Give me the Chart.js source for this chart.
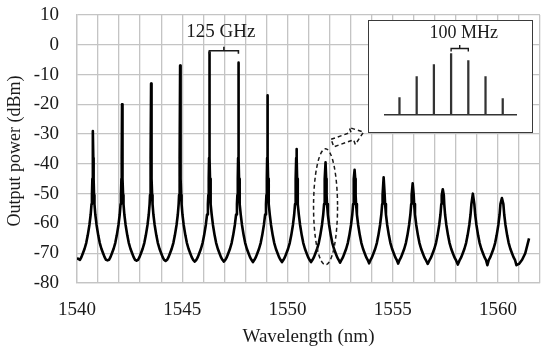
<!DOCTYPE html>
<html>
<head>
<meta charset="utf-8">
<script src="https://cdn.jsdelivr.net/npm/chart.js@4/dist/chart.umd.min.js"></script>
<style>
  body { margin: 0; background: #fff; }
  #wrap { position: relative; width: 550px; height: 351px; }
  #inset { position: absolute; left: 368px; top: 20px; width: 163px; height: 111px;
           border: 1.5px solid #3a3a3a; background: #fff; }
</style>
</head>
<body>
<div id="wrap">
  <canvas id="spectrum" width="550" height="351"></canvas>
  <div id="inset"><canvas id="insetChart" width="163" height="111"></canvas></div>
</div>
<script>
// --- data ---
const peakCenters = [1540.76, 1542.14, 1543.52, 1544.90, 1546.29, 1547.67, 1549.05, 1550.43,
                     1551.81, 1553.19, 1554.57, 1555.95, 1557.38, 1558.81, 1560.19]; // nm
const peakLevels = [-29, -20, -13, -7, -2.5, -6, -17, -35, -39.5, -42, -44.5, -46.5, -48.5, -50, -51.5]; // dBm
const valleyLevels = [-72.4, -72.5, -72.6, -72.8, -72.8, -73, -73, -73, -73.2, -73.4, -73.5, -73.6, -73.8, -74];
const skirtOffsets = [0.62, 0.55, 0.48, 0.40, 0.32, 0.25, 0.17, 0.11, 0.07, 0.05, 0.03, 0.015];
const skirtLevels = [-72.2, -71.3, -70, -68.5, -66.5, -64, -60.5, -57, -53.5, -50.5, -45, -38];
const startPoint = { x: 1540.0, y: -71.7 };
const tailPoints = [{ x: 1560.88, y: -74 }, { x: 1561.0, y: -73.6 }, { x: 1561.15, y: -72.2 },
                    { x: 1561.3, y: -70 }, { x: 1561.48, y: -65 }];

// inset: 100 MHz spaced lines
const insetPos = [1, 2, 3, 4, 5, 6, 7];
const insetLevels = [17, 38, 50, 61, 54, 38, 16];

const xTickLabels = [1540, 1545, 1550, 1555, 1560];
const yTitle = 'Output power (dBm)';
const serif = '"Liberation Serif", "Times New Roman", serif';
const ink = '#1a1a1a';
const gridGray = '#c4c4c4';

// --- build the trace from the read values ---
const trace = [startPoint];
peakCenters.forEach((c, i) => {
  for (let k = 0; k < skirtOffsets.length; k++) {
    if (skirtLevels[k] < peakLevels[i] - 1) trace.push({ x: c - skirtOffsets[k], y: skirtLevels[k] });
  }
  trace.push({ x: c, y: peakLevels[i] });
  for (let k = skirtOffsets.length - 1; k >= 0; k--) {
    if (skirtLevels[k] < peakLevels[i] - 1) trace.push({ x: c + skirtOffsets[k], y: skirtLevels[k] });
  }
  if (i < valleyLevels.length) trace.push({ x: (c + peakCenters[i + 1]) / 2, y: valleyLevels[i] });
});
trace.push(...tailPoints);

// --- annotations drawn on top of the main plot ---
const notes = {
  id: 'notes',
  afterDraw(chart) {
    const { ctx, chartArea, scales: { x, y } } = chart;
    ctx.save();
    ctx.strokeStyle = ink;
    ctx.fillStyle = ink;

    // y axis title, centred on the plot like the original
    ctx.save();
    ctx.translate(15, (chartArea.top + chartArea.bottom) / 2 + 2);
    ctx.rotate(-Math.PI / 2);
    ctx.font = '18px ' + serif;
    ctx.textAlign = 'center';
    ctx.textBaseline = 'middle';
    ctx.fillText(yTitle, 0, 0);
    ctx.restore();

    // 125 GHz bracket between peaks 5 and 6
    const bx1 = x.getPixelForValue(peakCenters[4]);
    const bx2 = x.getPixelForValue(peakCenters[5]);
    const by = y.getPixelForValue(-2);
    const bm = (bx1 + bx2) / 2;
    ctx.lineWidth = 1.6;
    ctx.beginPath();
    ctx.moveTo(bx1, by + 3); ctx.lineTo(bx1, by); ctx.lineTo(bx2, by); ctx.lineTo(bx2, by + 3);
    ctx.moveTo(bm, by); ctx.lineTo(bm, by - 4);
    ctx.stroke();
    ctx.font = '19px ' + serif;
    ctx.textAlign = 'center';
    ctx.textBaseline = 'middle';
    ctx.fillText('125 GHz', bm - 3, by - 19);

    // dashed ellipse round peak 9
    const ex = x.getPixelForValue(peakCenters[8]);
    const ey = y.getPixelForValue(-54.4);
    ctx.setLineDash([4, 3]);
    ctx.lineWidth = 1.5;
    ctx.beginPath();
    ctx.ellipse(ex, ey, 12, 58, 0, 0, Math.PI * 2);
    ctx.stroke();

    // dashed block arrow towards the inset
    const ax = x.getPixelForValue(1552.14);
    const ay = y.getPixelForValue(-33);
    ctx.translate(ax, ay);
    ctx.rotate(-0.34);
    ctx.beginPath();
    ctx.moveTo(0, -4); ctx.lineTo(21, -4); ctx.lineTo(21, -9); ctx.lineTo(33, 0);
    ctx.lineTo(21, 9); ctx.lineTo(21, 4); ctx.lineTo(0, 4); ctx.closePath();
    ctx.stroke();
    ctx.restore();
  }
};

new Chart(document.getElementById('spectrum'), {
  type: 'line',
  data: {
    datasets: [{
      data: trace,
      borderColor: '#000',
      borderWidth: 2.6,
      pointRadius: 0,
      tension: 0,
      borderJoinStyle: 'round',
      fill: false
    }]
  },
  options: {
    responsive: false,
    animation: false,
    devicePixelRatio: 1,
    layout: { padding: { left: 0, right: 10, top: 15, bottom: 0 } },
    plugins: { legend: { display: false }, tooltip: { enabled: false } },
    scales: {
      x: {
        type: 'linear',
        min: 1540, max: 1562,
        afterFit: s => { s.height = 68; s.paddingLeft = 0; s.paddingRight = 0; },
        grid: { color: gridGray, lineWidth: 1.3, drawTicks: false },
        border: { color: gridGray, width: 1.3 },
        ticks: {
          stepSize: 1, autoSkip: false, maxRotation: 0, padding: 16,
          color: ink, font: { family: serif, size: 19 },
          callback: v => xTickLabels.includes(v) ? String(v) : ''
        },
        title: { display: true, text: 'Wavelength (nm)', color: ink,
                 font: { family: serif, size: 19 }, padding: { top: 3, bottom: 3 } }
      },
      y: {
        min: -80, max: 10,
        afterFit: s => { s.width = 77; s.paddingTop = 0; s.paddingBottom = 0; },
        grid: { color: gridGray, lineWidth: 1.3, drawTicks: false },
        border: { color: gridGray, width: 1.3 },
        ticks: { stepSize: 10, padding: 18, color: ink, font: { family: serif, size: 19 } }
      }
    }
  },
  plugins: [notes]
});

// --- inset ---
const insetNotes = {
  id: 'insetNotes',
  afterDraw(chart) {
    const { ctx, scales: { x, y } } = chart;
    ctx.save();
    ctx.strokeStyle = ink;
    ctx.fillStyle = ink;
    const bx1 = x.getPixelForValue(insetPos[3]);
    const bx2 = x.getPixelForValue(insetPos[4]);
    const by = 27.5;
    const bm = (bx1 + bx2) / 2;
    ctx.lineWidth = 1.4;
    ctx.beginPath();
    ctx.moveTo(bx1, by + 3); ctx.lineTo(bx1, by); ctx.lineTo(bx2, by); ctx.lineTo(bx2, by + 3);
    ctx.moveTo(bm, by); ctx.lineTo(bm, by - 3.5);
    ctx.stroke();
    ctx.font = '18px ' + serif;
    ctx.textAlign = 'center';
    ctx.textBaseline = 'middle';
    ctx.fillText('100 MHz', bm + 4, 12);
    ctx.restore();
  }
};

new Chart(document.getElementById('insetChart'), {
  type: 'bar',
  data: {
    datasets: [{
      data: insetPos.map((p, i) => ({ x: p, y: insetLevels[i] })),
      backgroundColor: '#333',
      barThickness: 1.6
    }]
  },
  options: {
    responsive: false,
    animation: false,
    devicePixelRatio: 1,
    layout: { padding: { left: 15.5, right: 15.5, top: 23.5, bottom: 17.5 } },
    plugins: { legend: { display: false }, tooltip: { enabled: false } },
    scales: {
      x: {
        type: 'linear', min: 0.13, max: 7.8, offset: false,
        afterFit: s => { s.height = 0; },
        grid: { display: false, drawTicks: false },
        border: { display: true, color: '#333', width: 1.5 },
        ticks: { display: false }
      },
      y: { display: false, min: 0, max: 70 }
    }
  },
  plugins: [insetNotes]
});
</script>
</body>
</html>
